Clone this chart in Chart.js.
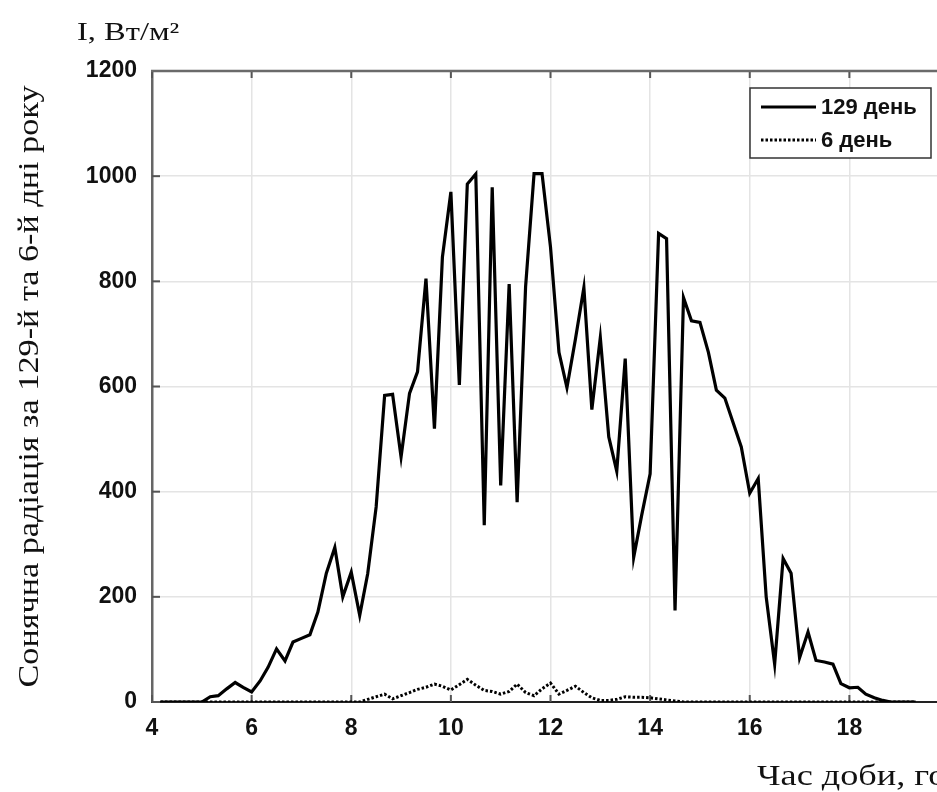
<!DOCTYPE html>
<html>
<head>
<meta charset="utf-8">
<script src="https://cdn.jsdelivr.net/npm/chart.js@4.4.1/dist/chart.umd.min.js"></script>
<style>
  html, body { margin: 0; padding: 0; background: #fff; overflow: hidden; }
  #wrap { width: 1000px; height: 792px; }
</style>
</head>
<body>
<div id="wrap"><canvas id="solarChart" width="1000" height="792"></canvas></div>
<script>
// time of day, hours (10-minute steps)
const hours = [
  4.17, 4.33, 4.5, 4.67, 4.83, 5,
  5.17, 5.33, 5.5, 5.67, 5.83, 6,
  6.17, 6.33, 6.5, 6.67, 6.83, 7,
  7.17, 7.33, 7.5, 7.67, 7.83, 8,
  8.17, 8.33, 8.5, 8.67, 8.83, 9,
  9.17, 9.33, 9.5, 9.67, 9.83, 10,
  10.17, 10.33, 10.5, 10.67, 10.83, 11,
  11.17, 11.33, 11.5, 11.67, 11.83, 12,
  12.17, 12.33, 12.5, 12.67, 12.83, 13,
  13.17, 13.33, 13.5, 13.67, 13.83, 14,
  14.17, 14.33, 14.5, 14.67, 14.83, 15,
  15.17, 15.33, 15.5, 15.67, 15.83, 16,
  16.17, 16.33, 16.5, 16.67, 16.83, 17,
  17.17, 17.33, 17.5, 17.67, 17.83, 18,
  18.17, 18.33, 18.5, 18.67, 18.83, 19,
  19.17, 19.33
];

// I, W/m2 on day 129
const day129 = [
  0, 0, 0, 0, 0, 0,
  10, 12, 25, 37, 28, 19,
  40, 66, 101, 78, 114, 121,
  128, 171, 245, 294, 200, 247,
  165, 244, 371, 583, 585, 466,
  587, 628, 805, 520, 846, 970,
  603, 985, 1004, 336, 979, 412,
  795, 380, 790, 1005, 1005, 865,
  665, 598, 690, 788, 556, 693,
  504, 439, 653, 275, 355, 434,
  891, 881, 174, 769, 725, 722,
  665, 593, 578, 530, 485, 397,
  425, 200, 72, 273, 245, 84,
  133, 79, 76, 72, 35, 27,
  28, 15, 8, 3, 0, 0,
  0, 0
];

// I, W/m2 on day 6
const day6 = [
  0, 0, 0, 0, 0, 0,
  0, 0, 0, 0, 0, 0,
  0, 0, 0, 0, 0, 0,
  0, 0, 0, 0, 0, 0,
  0, 5, 10, 15, 6, 12,
  18, 24, 28, 34, 30, 23,
  33, 43, 32, 22, 20, 15,
  20, 34, 18, 12, 25, 36,
  15, 22, 30, 18, 8, 3,
  3, 5, 10, 9, 9, 8,
  6, 4, 2, 0, 0, 0,
  0, 0, 0, 0, 0, 0,
  0, 0, 0, 0, 0, 0,
  0, 0, 0, 0, 0, 0,
  0, 0, 0, 0, 0, 0,
  0, 0
];

const seriesLabels = ['129 день', '6 день'];
const yTitle = 'Сонячна радіація за 129-й та 6-й дні року';
const xTitle = 'Час доби, год';
const unitLabel = 'I, Вт/м²';

const tickFont = { family: '"Liberation Sans", Arial, sans-serif', size: 23, weight: 'bold' };
const serif = '"Liberation Serif", "Times New Roman", serif';

const toPoints = (vals) => vals.map((v, i) => ({ x: hours[i], y: v }));

// draws text left-aligned from x, stretched along its baseline by sx
function stretchText(ctx, text, x, y, sx) {
  ctx.save();
  ctx.translate(x, y);
  ctx.scale(sx, 1);
  ctx.textAlign = 'left';
  ctx.fillText(text, 0, 0);
  ctx.restore();
}

// inner tick marks, top frame line, titles and the boxed legend
const decorations = {
  id: 'decorations',
  beforeDatasetsDraw(chart) {
    const { ctx, chartArea: a, scales } = chart;
    ctx.save();
    ctx.strokeStyle = '#555';
    ctx.lineWidth = 2;
    scales.x.ticks.forEach(t => {
      const px = scales.x.getPixelForValue(t.value);
      ctx.beginPath();
      ctx.moveTo(px, a.bottom); ctx.lineTo(px, a.bottom - 7);
      ctx.moveTo(px, a.top); ctx.lineTo(px, a.top + 7);
      ctx.stroke();
    });
    scales.y.ticks.forEach(t => {
      const py = scales.y.getPixelForValue(t.value);
      ctx.beginPath();
      ctx.moveTo(a.left, py); ctx.lineTo(a.left + 8, py);
      ctx.stroke();
    });
    ctx.strokeStyle = '#6a6a6a';
    ctx.lineWidth = 2.5;
    ctx.beginPath();
    ctx.moveTo(a.left - 1, a.top); ctx.lineTo(a.right, a.top);
    ctx.stroke();
    ctx.restore();
  },
  afterDraw(chart) {
    const { ctx, chartArea: a } = chart;
    ctx.save();
    ctx.fillStyle = '#111';
    ctx.textBaseline = 'alphabetic';

    // unit label above the y axis
    ctx.font = '25px ' + serif;
    stretchText(ctx, unitLabel, 77, 40, 1.3);

    // rotated y title, spread over the plot height
    ctx.save();
    ctx.font = '29px ' + serif;
    const w = ctx.measureText(yTitle).width;
    const target = 602;
    ctx.translate(38, (a.top + a.bottom) / 2 + target / 2);
    ctx.rotate(-Math.PI / 2);
    stretchText(ctx, yTitle, 0, 0, target / w);
    ctx.restore();

    // x title, starts under the 16-18 interval and runs past the edge
    ctx.font = '29px ' + serif;
    stretchText(ctx, xTitle, 757, 785, 1.25);

    // legend box
    const bx = 750, by = 88, bw = 181, bh = 70;
    ctx.fillStyle = '#fff';
    ctx.fillRect(bx, by, bw, bh);
    ctx.strokeStyle = '#333';
    ctx.lineWidth = 1.5;
    ctx.strokeRect(bx, by, bw, bh);
    const rows = [by + 19, by + 52];
    chart.data.datasets.slice().sort((p, q) => p.legendRow - q.legendRow).forEach((ds, i) => {
      const y = rows[i];
      ctx.strokeStyle = ds.borderColor;
      ctx.lineWidth = ds.borderWidth;
      ctx.setLineDash(ds.borderDash || []);
      ctx.beginPath();
      ctx.moveTo(bx + 11, y); ctx.lineTo(bx + 66, y);
      ctx.stroke();
      ctx.setLineDash([]);
      ctx.fillStyle = '#111';
      ctx.font = 'bold 22px "Liberation Sans", Arial, sans-serif';
      ctx.textAlign = 'left';
      ctx.textBaseline = 'middle';
      ctx.fillText(ds.label, bx + 71, y + 1);
    });
    ctx.restore();
  }
};

new Chart(document.getElementById('solarChart'), {
  type: 'line',
  data: {
    datasets: [
      {
        label: seriesLabels[0],
        data: toPoints(day129),
        borderColor: '#000',
        borderWidth: 3.2,
        pointRadius: 0,
        tension: 0,
        order: 1,
        legendRow: 0
      },
      {
        label: seriesLabels[1],
        data: toPoints(day6),
        borderColor: '#000',
        borderWidth: 3,
        borderDash: [2.5, 2],
        pointRadius: 0,
        tension: 0,
        order: 0,
        legendRow: 1
      }
    ]
  },
  options: {
    responsive: false,
    animation: false,
    layout: { padding: { top: 71, right: 51, left: 0, bottom: 0 } },
    plugins: { legend: { display: false }, tooltip: { enabled: false } },
    scales: {
      x: {
        type: 'linear',
        min: 4,
        max: 20,
        afterFit: s => { s.height = 90; },
        ticks: { stepSize: 2, padding: 13, font: tickFont, color: '#111', maxRotation: 0 },
        grid: { color: '#e4e4e4', lineWidth: 1.5, drawTicks: false },
        border: { color: '#222', width: 2 }
      },
      y: {
        min: 0,
        max: 1200,
        afterFit: s => { s.width = 152; },
        ticks: { stepSize: 200, padding: 15, font: tickFont, color: '#111', callback: v => v },
        grid: { color: '#e4e4e4', lineWidth: 1.5, drawTicks: false },
        border: { color: '#666', width: 2.5 }
      }
    }
  },
  plugins: [decorations]
});
</script>
</body>
</html>
